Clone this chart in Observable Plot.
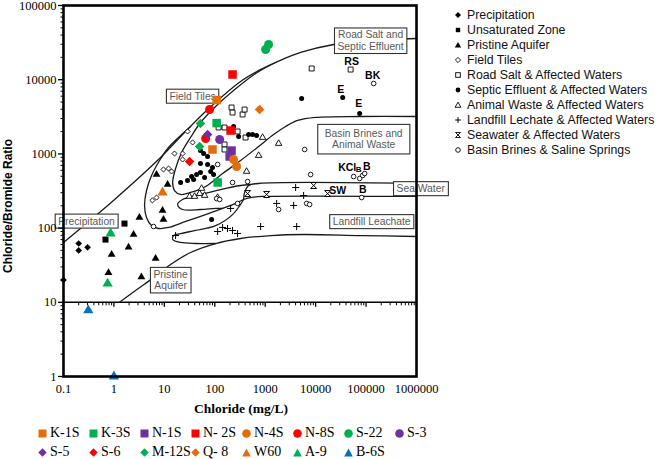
<!DOCTYPE html>
<html>
<head>
<meta charset="utf-8">
<script src="https://cdn.jsdelivr.net/npm/d3@7"></script>
<script src="https://cdn.jsdelivr.net/npm/@observablehq/plot@0.6"></script>
<style>
  html,body{margin:0;padding:0;background:#fff;}
  #wrap{position:relative;width:661px;height:459px;overflow:hidden;background:#fff;}
  #chart{position:absolute;left:0;top:0;}
  .ytitle{position:absolute;left:8px;top:206px;transform:translate(-50%,-50%) rotate(-90deg);white-space:nowrap;font:bold 12px "Liberation Sans",Arial,sans-serif;color:#000;}
  .xtitle{position:absolute;left:241px;top:409px;transform:translate(-50%,-50%);white-space:nowrap;font:bold 13.5px "Liberation Serif","Times New Roman",serif;color:#000;}
  .rleg{position:absolute;left:452px;height:14px;display:flex;align-items:center;white-space:nowrap;font:12.3px "Liberation Sans",Arial,sans-serif;color:#111;}
  .rleg svg{width:12px;height:12px;margin-right:3px;flex:none;}
  .bleg{position:absolute;height:16px;display:flex;align-items:center;white-space:nowrap;font:14px "Liberation Serif","Times New Roman",serif;color:#000;}
  .bleg svg{width:9px;height:9px;margin-right:3px;flex:none;}
</style>
</head>
<body>
<div id="wrap">
  <div id="chart"></div>
  <div class="ytitle">Chloride/Bromide Ratio</div>
  <div class="xtitle">Chloride (mg/L)</div>
</div>
<script>
// ---------- values (Cl mg/L, Cl/Br ratio) ----------
const xTickValues = [0.1, 1, 10, 100, 1000, 10000, 100000, 1000000];
const yTickValues = [1, 10, 100, 1000, 10000, 100000];

const precipitation = [[0.2,62],[0.2,50],[0.3,55],[0.1,20]];
const unsaturatedZone = [[0.68,70],[1.62,115]];
const pristineAquifer = [[7.0,527],[11.6,387],[3.2,139],[9.2,173],[9.6,131],[2.45,82],[1.95,55],[0.9,44],[0.78,25],[3.5,22],[6.7,39]];
const fieldTiles = [[28.8,2005],[36.3,1426],[15.9,1011],[23,1011],[23,841],[9.6,617],[12.1,636],[13.9,580],[5.8,236],[7.0,258]];
const roadSalt = [[215,4220],[225,3610],[356,3400],[390,3960],[119,2270],[156,2270],[283,2005],[408,1663],[156,1340],[156,1146],[8340,14160],[49400,13700]];
const septicEffluent = [[236,2340],[297,1718],[469,1825],[562,1825],[675,1770],[52,1111],[72,923],[60,1011],[52,743],[72,720],[90,656],[83,580],[52,562],[43.6,527],[34.7,495],[38,452],[28.8,438],[21,412],[94.6,527],[62.8,481],[86.5,131],[5270,5580],[34400,5760],[74600,3500]];
const animalWaste = [[887,1663],[1845,1380],[740,951],[427,580],[31.6,267],[39.7,267],[50,292],[62.8,275],[54.7,342],[114,258]];
const landfillLeachate = [[16.7,79.4],[114,90],[143,102],[179,98.8],[225,92.9],[283,84.5],[206,184],[811,105],[4200,105],[1683,215],[3660,202],[4010,352],[5780,275]];
const seawater = [[448,292],[1067,284],[9130,375],[17300,292]];
const basinBrines = [[6050,1146],[7960,527],[225,412],[448,424],[56700,495],[74600,466],[85700,512],[93800,544],[81800,258],[1845,178],[6630,215],[7600,208],[283,215],[114,720],[109,250],[125,243],[6.1,105],[141600,8890]];

// sampled wells
const k1S = [[109,5320],[90,1146]];
const k3S = [[109,2600],[114,412]];
const n1S = [[215,1110],[197,923]];
const n2S = [[225,11750],[206,2065]];
const n4S = [[236,841],[271,676]];
const n8S = [[79,3960],[66,1615]];
const s22 = [[1019,25500],[1167,29800]];
const s3 = [[125,1564]];
const s5 = [[72,1825]];
const s6 = [[31.6,791]];
const m12S = [[52,2570],[50,1259]];
const q8 = [[774,3960]];
const w60 = [[9.2,302]];
const a9 = [[0.86,84.5],[0.75,17.9]];
const b6S = [[0.31,7.8],[1,1]];

// envelope / mixing curves
const precipitationLine = [[0.1,64],[0.98,236],[8.4,894],[23,1825],[69,3845],[325,9460],[887,14160],[1762,17600],[5040,23300],[22750,29800],[123000,33700],[1000000,35900]];
const roadSaltLower = [[1762,17600],[646,12130],[236,7150],[104,4360],[52.2,2650],[33,1663],[22,1045],[16.7,636],[14.6,412],[15.9,321],[21,284],[33,302],[66,364],[143,544],[325,815],[740,1259],[1468,1825],[2540,2340],[4395,2820],[10000,3100],[78200,3190],[1000000,3190]];
const fieldTilesLower = [[33.1,2340],[19.1,1663],[12.1,1219],[8.04,815],[5.57,512],[4.43,321],[4.05,202],[4.43,139],[5.57,108],[7.67,98.8],[12.1,102],[26.4,123],[65.6,152],[143,184],[259,215],[373,243],[513,258],[887,267],[1000000,267]];
const seaWaterUpper = [[373,243],[390,302],[469,375],[740,399],[1000000,399]];
const seaWaterLoop = [[513,387],[325,375],[130,331],[52.2,284],[23,243],[18.3,208],[23,178],[52.2,178],[104,184],[143,184]];
const landfillLoop = [[104,62],[41.6,62],[21,64],[14.6,70.2],[15.2,79.4],[21,84.5],[41.6,92.9],[104,108],[225,152],[373,243]];
const pristineLine = [[1.29,10],[2.68,14.4],[5.83,21],[13.3,32.3],[33.1,46.9],[104,62],[325,72.4],[1279,79.4],[5780,82],[78200,79.4],[1000000,77.1]];

// boxed field labels [text, Cl, ratio]
const fieldLabels = [
  ["Field Tiles", 36.3, 6030],
  ["Road Salt and\nSeptic Effluent", 123000, 33700],
  ["Basin Brines and\nAnimal Waste", 89600, 1589],
  ["Sea Water", 1210000, 342],
  ["Landfill Leachate", 129000, 123],
  ["Precipitation", 0.286, 125],
  ["Pristine\nAquifer", 13.3, 20]
];
// end-member labels
const endMemberLabels = [["RS",51800,17600],["BK",135000,11400],["E",31300,7380],["E",71300,4780],["KCl",42200,656],["B",103000,665],["SW",27400,316],["B",85700,326]];
const smallEndMemberLabels = [["B",71300,625]];

const sourceNames = ["Precipitation","Unsaturated Zone","Pristine Aquifer","Field Tiles","Road Salt & Affected Waters","Septic Effluent & Affected Waters","Animal Waste & Affected Waters","Landfill Lechate & Affected Waters","Seawater & Affected Waters","Basin Brines & Saline Springs"];
const siteNames = ["K-1S","K-3S","N-1S","N- 2S","N-4S","N-8S","S-22","S-3","S-5","S-6","M-12S","Q- 8","W60","A-9","B-6S"];

// ---------- styles ----------
const ORANGE = "#E46C0A", GREEN = "#00B050", PURPLE = "#7030A0", RED = "#FF0000", BLUE = "#0070C0";
const siteData = [k1S,k3S,n1S,n2S,n4S,n8S,s22,s3,s5,s6,m12S,q8,w60,a9,b6S];
const siteShape = ["square","square","square","square","circle","circle","circle","circle","diamond2","diamond2","diamond2","diamond2","triangle","triangle","triangle"];
const siteColor = [ORANGE,GREEN,PURPLE,RED,ORANGE,RED,GREEN,PURPLE,PURPLE,RED,GREEN,ORANGE,ORANGE,GREEN,BLUE];
const shapeR = {square: 4.8, circle: 4.5, diamond2: 4.3, triangle: 3.8};
const boxPadding = {"Basin Brines and\nAnimal Waste": [7, 3.5]};

const hourglass = {draw(ctx, size){ const s = Math.sqrt(size/Math.PI); ctx.moveTo(-s,-s); ctx.lineTo(s,-s); ctx.lineTo(-s,s); ctx.lineTo(s,s); ctx.closePath(); }};
const tickDown = {draw(ctx, size){ const s = Math.sqrt(size/Math.PI); ctx.moveTo(0,0); ctx.lineTo(0,s); }};
const tickLeft = {draw(ctx, size){ const s = Math.sqrt(size/Math.PI); ctx.moveTo(0,0); ctx.lineTo(-s,0); }};

const minorX = []; for (let e = -1; e < 6; e++) for (let m = 2; m <= 9; m++) minorX.push(+(m * Math.pow(10, e)).toPrecision(3));
const minorY = []; for (let e = 0; e < 5; e++) for (let m = 2; m <= 9; m++) minorY.push(m * Math.pow(10, e));

const xy = {x: d => d[0], y: d => d[1]};
const curves = [precipitationLine, roadSaltLower, fieldTilesLower, seaWaterUpper, seaWaterLoop, landfillLoop, pristineLine];
const SANS = "'Liberation Sans', Arial, sans-serif";

const chart = Plot.plot({
  width: 661, height: 459,
  marginLeft: 63, marginRight: 245, marginTop: 5, marginBottom: 83,
  x: {type: "log", domain: [0.1, 1e6]},
  y: {type: "log", domain: [1, 1e5]},
  style: {fontFamily: "'Liberation Serif', 'Times New Roman', serif", fontSize: "12.5px", background: "transparent", overflow: "visible", color: "#000"},
  marks: [
    Plot.ruleY([10], {stroke: "#000", strokeWidth: 1.4}),
    Plot.dot(minorX, {x: d => d, y: () => 10, symbol: tickDown, r: 3, stroke: "#000", strokeWidth: 1, fill: "none"}),
    Plot.dot(xTickValues, {x: d => d, y: () => 10, symbol: tickDown, r: 4.5, stroke: "#000", strokeWidth: 1.3, fill: "none"}),
    Plot.dot(minorY, {x: () => 0.1, y: d => d, symbol: tickLeft, r: 3, stroke: "#000", strokeWidth: 1, fill: "none"}),
    ...curves.map(c => Plot.line(c, {...xy, curve: "catmull-rom", stroke: "#1a1a1a", strokeWidth: 1.3})),
    Plot.text(fieldLabels, {x: d => d[1], y: d => d[2], text: d => d[0], fill: "#595959", fontFamily: SANS, fontSize: 10.3, lineHeight: 1.12}),
    Plot.text(endMemberLabels, {x: d => d[1], y: d => d[2], text: d => d[0], fill: "#000", fontFamily: SANS, fontWeight: "bold", fontSize: 10.5}),
    Plot.text(smallEndMemberLabels, {x: d => d[1], y: d => d[2], text: d => d[0], fill: "#000", fontFamily: SANS, fontWeight: "bold", fontSize: 8}),
    // background samples
    Plot.dot(precipitation, {...xy, symbol: "diamond2", r: 3, fill: "#000"}),
    Plot.dot(unsaturatedZone, {...xy, symbol: "square", r: 3.4, fill: "#000"}),
    Plot.dot(pristineAquifer, {...xy, symbol: "triangle", r: 2.9, fill: "#000"}),
    Plot.dot(fieldTiles, {...xy, symbol: "diamond2", r: 2.3, fill: "#fff", stroke: "#000", strokeWidth: 0.9}),
    Plot.dot(roadSalt, {...xy, symbol: "square", r: 2.8, fill: "#fff", stroke: "#000", strokeWidth: 0.9}),
    Plot.dot(septicEffluent, {...xy, symbol: "circle", r: 2.5, fill: "#000"}),
    Plot.dot(animalWaste, {...xy, symbol: "triangle", r: 2.4, fill: "#fff", stroke: "#000", strokeWidth: 0.9}),
    Plot.dot(landfillLeachate, {...xy, symbol: "plus", r: 2.4, fill: "none", stroke: "#000", strokeWidth: 1}),
    Plot.dot(seawater, {...xy, symbol: hourglass, r: 3, fill: "#fff", stroke: "#000", strokeWidth: 1}),
    Plot.dot(basinBrines, {...xy, symbol: "circle", r: 2.3, fill: "#fff", stroke: "#000", strokeWidth: 0.9}),
    // sampled wells
    ...siteData.map((d, i) => Plot.dot(d, {...xy, symbol: siteShape[i], r: shapeR[siteShape[i]], fill: siteColor[i], stroke: "none"})),
    Plot.frame({stroke: "#000", strokeWidth: 2.6}),
    Plot.axisY({ticks: yTickValues, tickSize: 5, tickPadding: 2, tickFormat: d => String(d), label: null, strokeWidth: 1.3}),
    Plot.axisX({ticks: xTickValues, tickSize: 0, tickPadding: 8, tickFormat: d => String(d), label: null})
  ]
});
document.getElementById("chart").append(chart);

// white boxes behind the field labels
const NS = "http://www.w3.org/2000/svg";
chart.querySelectorAll('g[aria-label="text"]').forEach(g => {
  if (g.getAttribute("fill") !== "#595959") return;
  g.querySelectorAll("text").forEach(t => {
    const b = t.getBBox();
    const [px, py] = boxPadding[t.textContent] || boxPadding[Array.from(t.querySelectorAll("tspan")).map(s => s.textContent).join("\n")] || [3, 1.5];
    const r = document.createElementNS(NS, "rect");
    r.setAttribute("x", b.x - px); r.setAttribute("y", b.y - py);
    r.setAttribute("width", b.width + 2 * px); r.setAttribute("height", b.height + 2 * py);
    r.setAttribute("fill", "#fff"); r.setAttribute("stroke", "#333"); r.setAttribute("stroke-width", 1.1);
    if (t.getAttribute("transform")) r.setAttribute("transform", t.getAttribute("transform"));
    g.insertBefore(r, t);
  });
});

// right-hand legend of sources
const legendSymbols = [
  '<polygon points="6,3 9,6 6,9 3,6" fill="#000"/>',
  '<rect x="3.8" y="3.8" width="4.4" height="4.4" fill="#000"/>',
  '<polygon points="6,3 9.2,8.6 2.8,8.6" fill="#000"/>',
  '<polygon points="6,3.4 8.6,6 6,8.6 3.4,6" fill="#fff" stroke="#000" stroke-width="0.9"/>',
  '<rect x="3.7" y="3.7" width="4.6" height="4.6" fill="#fff" stroke="#000" stroke-width="0.9"/>',
  '<circle cx="6" cy="6" r="2.4" fill="#000"/>',
  '<polygon points="6,3.2 8.9,8.3 3.1,8.3" fill="#fff" stroke="#000" stroke-width="0.9"/>',
  '<path d="M6 3.2V8.8M3.2 6H8.8" stroke="#000" stroke-width="1"/>',
  '<path d="M3.5 3.5H8.5L3.5 8.5H8.5Z" fill="#fff" stroke="#000" stroke-width="0.9"/>',
  '<circle cx="6" cy="6" r="2.3" fill="#fff" stroke="#000" stroke-width="0.9"/>'
];
const wrap = document.getElementById("wrap");
sourceNames.forEach((name, i) => {
  const d = document.createElement("div");
  d.className = "rleg";
  d.style.top = (15 + 15 * i - 7) + "px";
  d.innerHTML = '<svg viewBox="0 0 12 12">' + legendSymbols[i] + '</svg><span></span>';
  d.querySelector("span").textContent = name;
  wrap.append(d);
});

// bottom legend of sampled wells
const siteSymbolSvg = {
  square: c => `<rect x="0.5" y="0.5" width="8" height="8" fill="${c}"/>`,
  circle: c => `<circle cx="4.5" cy="4.5" r="4.3" fill="${c}"/>`,
  diamond2: c => `<polygon points="4.5,0.3 8.7,4.5 4.5,8.7 0.3,4.5" fill="${c}"/>`,
  triangle: c => `<polygon points="4.5,0.5 8.8,8.5 0.2,8.5" fill="${c}"/>`
};
siteNames.forEach((name, i) => {
  const row = i < 8 ? 0 : 1, col = i < 8 ? i : i - 8;
  const d = document.createElement("div");
  d.className = "bleg";
  d.style.left = (38 + 51 * col) + "px";
  d.style.top = (row === 0 ? 425 : 444) + "px";
  d.innerHTML = '<svg viewBox="0 0 9 9">' + siteSymbolSvg[siteShape[i]](siteColor[i]) + '</svg><span></span>';
  d.querySelector("span").textContent = name;
  wrap.append(d);
});
</script>
</body>
</html>
